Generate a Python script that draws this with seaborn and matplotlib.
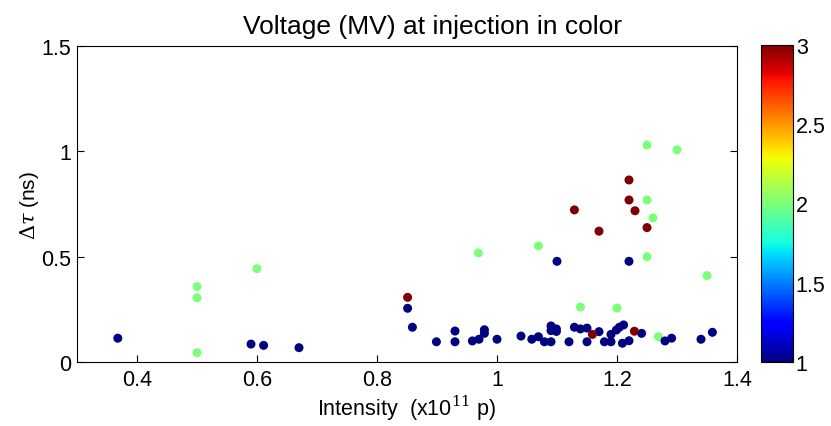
import matplotlib
matplotlib.use("Agg")
import matplotlib.pyplot as plt
import seaborn as sns
import numpy as np
import pandas as pd

# Data: intensity (x1e11 p), delta tau (ns), voltage (MV)
green_x = [0.500, 0.500, 0.500, 0.600, 0.969, 1.069, 1.139, 1.200, 1.250, 1.300, 1.250, 1.260, 1.250, 1.350, 1.269]
green_y = [0.358, 0.305, 0.044, 0.443, 0.518, 0.551, 0.261, 0.256, 1.030, 1.007, 0.769, 0.684, 0.500, 0.410, 0.120]

blue_x = [0.368, 0.590, 0.611, 0.670, 0.851, 0.859, 0.899, 0.930, 0.930, 0.959, 0.970, 0.979, 0.979, 1.000,
          1.040, 1.058, 1.069, 1.079, 1.090, 1.090, 1.090, 1.099, 1.099, 1.100, 1.120, 1.129, 1.139, 1.150,
          1.150, 1.170, 1.179, 1.190, 1.190, 1.199, 1.204, 1.211, 1.209, 1.220, 1.220, 1.241, 1.280, 1.291,
          1.340, 1.359]
blue_y = [0.113, 0.085, 0.079, 0.068, 0.255, 0.165, 0.096, 0.147, 0.096, 0.100, 0.108, 0.153, 0.136, 0.108,
          0.123, 0.108, 0.120, 0.096, 0.096, 0.171, 0.149, 0.157, 0.145, 0.478, 0.096, 0.165, 0.157, 0.161,
          0.096, 0.144, 0.096, 0.096, 0.131, 0.152, 0.165, 0.176, 0.089, 0.101, 0.478, 0.136, 0.100, 0.113,
          0.108, 0.141]

red_x = [0.851, 1.129, 1.170, 1.220, 1.220, 1.230, 1.250, 1.159, 1.229]
red_y = [0.307, 0.722, 0.621, 0.864, 0.769, 0.718, 0.638, 0.131, 0.146]

voltages = [2.0, 1.0, 3.0]

x_ticks = [0.4, 0.6, 0.8, 1.0, 1.2, 1.4]
x_ticklabels = ["0.4", "0.6", "0.8", "1", "1.2", "1.4"]
y_ticks = [0, 0.5, 1.0, 1.5]
y_ticklabels = ["0", "0.5", "1", "1.5"]
cb_ticks = [1, 1.5, 2, 2.5, 3]
cb_ticklabels = ["1", "1.5", "2", "2.5", "3"]

df = pd.DataFrame({
    "x": green_x + blue_x + red_x,
    "y": green_y + blue_y + red_y,
    "v": [voltages[0]] * len(green_x) + [voltages[1]] * len(blue_x) + [voltages[2]] * len(red_x),
})

sns.set_style("white")
plt.rcParams["font.family"] = ["Liberation Sans", "DejaVu Sans"]
plt.rcParams["mathtext.fontset"] = "dejavuserif"
plt.rcParams["text.color"] = "black"
plt.rcParams["axes.labelcolor"] = "black"
plt.rcParams["xtick.color"] = "black"
plt.rcParams["ytick.color"] = "black"

fig = plt.figure(figsize=(8.31, 4.27), dpi=100)
ax = fig.add_axes([77 / 831, 64 / 427, 660 / 831, 316 / 427])
cax = fig.add_axes([761 / 831, 64 / 427, 32 / 831, 317 / 427])

cmap = plt.get_cmap("jet")
norm = matplotlib.colors.Normalize(vmin=1, vmax=3)

sns.scatterplot(data=df, x="x", y="y", hue="v", palette=cmap, hue_norm=norm,
                s=42, linewidth=0, legend=False, ax=ax)

ax.set_xlim(0.3, 1.4)
ax.set_ylim(0, 1.5)
ax.set_xticks(x_ticks)
ax.set_xticklabels(x_ticklabels)
ax.set_yticks(y_ticks)
ax.set_yticklabels(y_ticklabels)
ax.tick_params(direction="in", length=5, width=0.8, labelsize=15.5, colors="black",
               top=False, right=True, bottom=True, left=True)
ax.tick_params(axis="x", pad=5)
ax.tick_params(axis="y", pad=4)
for sp in ax.spines.values():
    sp.set_visible(True)
    sp.set_color("black")
    sp.set_linewidth(0.8)

ax.set_xlabel(r"Intensity  (x10$^{11}$ p)", fontsize=15.5, labelpad=2, color="black")
ax.set_ylabel(r"$\Delta\tau$ (ns)", fontsize=15, labelpad=0.5, color="black")
ax.set_title("Voltage (MV) at injection in color", fontsize=19, pad=9, x=0.538, color="black")

sm = matplotlib.cm.ScalarMappable(norm=norm, cmap=cmap)
cb = fig.colorbar(sm, cax=cax)
cb.set_ticks(cb_ticks)
cb.set_ticklabels(cb_ticklabels)
cb.ax.tick_params(direction="in", length=4, width=0.8, labelsize=15.5, pad=2, colors="black")
cb.outline.set_linewidth(0.8)
cb.outline.set_edgecolor("black")

fig.savefig("out.png", dpi=100)
